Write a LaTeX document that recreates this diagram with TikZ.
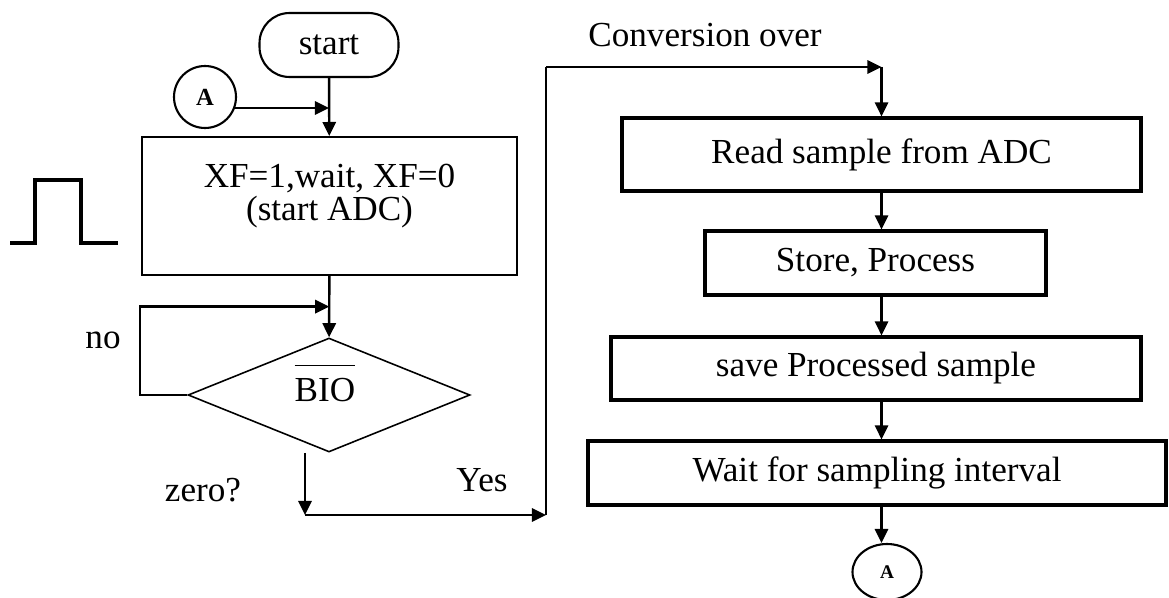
\documentclass[tikz,border=0pt]{standalone}
\usepackage{fontspec}
\setmainfont{Liberation Serif}
\usetikzlibrary{arrows.meta,shapes.geometric,positioning,calc}

\begin{document}
\begin{tikzpicture}[x=0.02cm, y=-0.02cm,
  font=\fontsize{20}{24}\selectfont,
  proc/.style={draw, line width=1.8pt, inner sep=0pt},
  conn/.style={line width=1.4pt},
  arr/.style={conn, -{Triangle[length=8pt,width=7.5pt]}}]
\useasboundingbox (0,0) rectangle (1169,598);

% left column
\node[draw, line width=1.2pt, rounded corners=0.6cm, minimum width=2.78cm, minimum height=1.28cm] (start) at (329,45) {start};
\node[draw, circle, line width=1.2pt, minimum size=1.24cm, inner sep=0pt, font=\bfseries\fontsize{14}{14}\selectfont] (a1) at (205,97) {A};
\node[draw, line width=1.1pt, minimum width=7.5cm, minimum height=2.76cm] (xf) at (329.5,206) {};
\node[align=center, font=\fontsize{20}{19}\selectfont] (xftxt) at (329.5,196) {XF=1,wait, XF=0\\(start ADC)};
\node[draw, diamond, line width=0.9pt, minimum width=5.64cm, minimum height=2.28cm, inner sep=0pt] (bio) at (329,395) {};
\node (biotxt) at (325,383) {$\overline{\mbox{\rule{0pt}{0.95em}BIO}}$};
\coordinate (lp) at ($(xf.south)!0.5!(bio.north)$);

\draw[line width=1.8pt] (10,243) -- (35,243) -- (35,180) -- (81,180) -- (81,243) -- (118,243);

\draw[arr] (start) -- (xf);
\draw[arr] (a1.-20) -- (a1.-20 -| start);
\draw[arr] (xf) -- (bio);
\draw[arr] (bio.west) -- ++(-47,0) |- (lp);

\node (no) at (103,340) {no};
\node (zero) at (203,490) {zero?};
\node (yes) at (482,480) {Yes};
\node (conv) at (705,35) {Conversion over};

% right column
\node[proc, minimum width=10.38cm, minimum height=1.46cm] (rd) at (881.5,154.5) {Read sample from ADC};
\node[proc, minimum width=6.82cm, minimum height=1.28cm] (sp) at (875.5,263) {Store, Process};
\node[proc, minimum width=10.6cm, minimum height=1.26cm] (sv) at (876,368.5) {save Processed sample};
\node[proc, minimum width=11.56cm, minimum height=1.28cm] (wt) at (877,473) {Wait for sampling interval};
\node[draw, ellipse, line width=1.2pt, minimum width=1.38cm, minimum height=1.12cm, inner sep=0pt, font=\bfseries\fontsize{11}{11}\selectfont] (a2) at (887,572) {A};

\coordinate (yb) at (305,515);
\coordinate (yc) at (546,515);
\coordinate (yt) at (546,67);
\draw[arr] ($(bio.south)+(-24,0)$) -- (yb);
\draw[arr] (yb) -- (yc);
\draw[conn] (yc) -- (yt);
\draw[arr] (yt) -- (yt -| rd);
\draw[arr] (yt -| rd) -- (rd);
\draw[arr] (rd.south) -- (sp.north -| rd);
\draw[arr] (sp.south -| rd) -- (sv.north -| rd);
\draw[arr] (sv.south -| rd) -- (wt.north -| rd);
\draw[arr] (wt.south -| rd) -- (a2.north -| rd);
\end{tikzpicture}
\end{document}
